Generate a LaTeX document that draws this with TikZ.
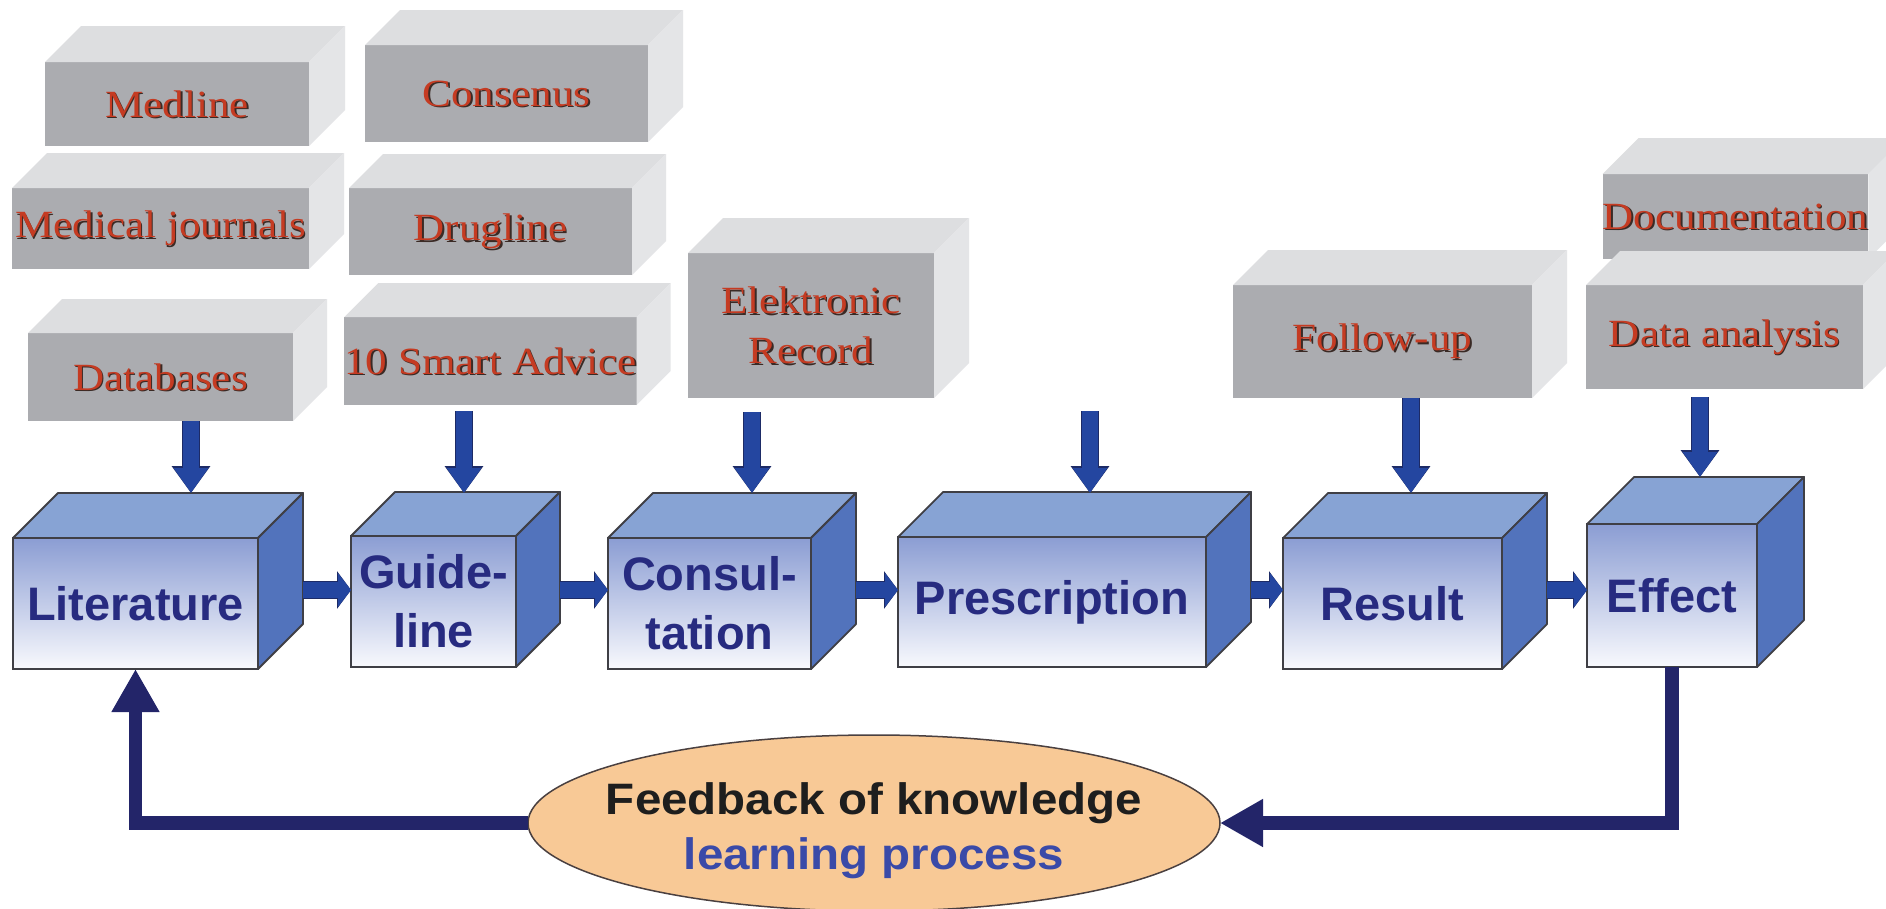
\documentclass[tikz,border=0pt]{standalone}
\usepackage{fontspec}
\usetikzlibrary{arrows.meta,shapes.geometric}
\newfontfamily\graytxt[FakeStretch=1.12]{Liberation Serif}
\newfontfamily\bluetxt{Liberation Sans}
\newfontfamily\elltxt[FakeStretch=1.08]{Liberation Sans}
\definecolor{gfront}{HTML}{ABACB0}
\definecolor{gtop}{HTML}{DDDEE0}
\definecolor{gside}{HTML}{E4E5E7}
\definecolor{gred}{HTML}{C53B22}
\definecolor{gshadow}{HTML}{3A2A25}
\definecolor{btop}{HTML}{87A3D4}
\definecolor{bside}{HTML}{5273BC}
\definecolor{bft}{HTML}{8B9DD3}
\definecolor{bfm}{HTML}{C9D2EC}
\definecolor{bfb}{HTML}{F8F9FD}
\definecolor{bedge}{HTML}{3F3F45}
\definecolor{btext}{HTML}{272B80}
\definecolor{ablue}{HTML}{2446A0}
\definecolor{aedge}{HTML}{1D2B66}
\definecolor{fbnavy}{HTML}{232569}
\definecolor{ellfill}{HTML}{F8C996}
\definecolor{elledge}{HTML}{4A4040}
\definecolor{elltxta}{HTML}{1E1E1E}
\definecolor{elltxtb}{HTML}{3A4AA8}
\newcommand\shd[1]{\makebox[0pt][l]{\hspace*{1.6pt}\raisebox{-1.6pt}[0pt][0pt]{\textcolor{gshadow}{#1}}}#1}
% gray 3D box: name, cx, cy, w, h, depth, text
\newcommand\gbox[7]{%
  \node[gfrontbox, minimum width=#4pt, minimum height=#5pt] (#1) at (#2,#3) {#7};
  \fill[gtop] (#1.north west) -- ++(#6,-#6) -- ([xshift=#6pt,yshift=#6pt]#1.north east) -- (#1.north east) -- cycle;
  \fill[gside] (#1.north east) -- ([xshift=#6pt,yshift=#6pt]#1.north east) -- ([xshift=#6pt,yshift=#6pt]#1.south east) -- (#1.south east) -- cycle;
}
% blue 3D box: name, cx, cy, w, h, depth, text
\newcommand\bbox[7]{%
  \node[bfrontbox, minimum width=#4pt, minimum height=#5pt] (#1) at (#2,#3) {#7};
  \filldraw[fill=btop, draw=bedge, line width=1.8pt, line join=round] (#1.north west) -- ++(#6,-#6) -- ([xshift=#6pt,yshift=#6pt]#1.north east) -- (#1.north east) -- cycle;
  \filldraw[fill=bside, draw=bedge, line width=1.8pt, line join=round] (#1.north east) -- ([xshift=#6pt,yshift=#6pt]#1.north east) -- ([xshift=#6pt,yshift=#6pt]#1.south east) -- (#1.south east) -- cycle;
}
\tikzset{
  gfrontbox/.style={rectangle, fill=gfront, inner sep=0pt, outer sep=0pt, align=center,
    text=gred, font=\graytxt\fontsize{38.5}{50}\selectfont},
  bfrontbox/.style={rectangle, draw=bedge, line width=1.8pt, inner sep=0pt, outer sep=0pt,
    top color=bft, middle color=bfm, bottom color=bfb, align=center,
    text=btext, font=\bluetxt\bfseries\fontsize{47}{59}\selectfont},
  varrow/.style={draw=ablue, line width=16pt, -{Triangle[length=25pt,width=33pt]},
    preaction={draw=aedge, line width=18.5pt, -{Triangle[length=27pt,width=37pt]}}},
  harrow/.style={draw=ablue, line width=16pt, -{Triangle[length=13pt,width=33pt]},
    preaction={draw=aedge, line width=18.5pt, -{Triangle[length=14pt,width=37pt]}}},
  fbarrow/.style={draw=fbnavy, line width=13.5pt, line join=miter, -{Triangle[length=43pt,width=45pt]}},
  fbnode/.style={ellipse, draw=elledge, line width=1.5pt, fill=ellfill, inner sep=0pt, outer sep=0pt,
    minimum width=692pt, minimum height=176pt,
    font=\elltxt\bfseries\fontsize{44}{57}\selectfont}
}
\begin{document}
\begin{tikzpicture}[x=1pt,y=-1pt]
\useasboundingbox (0,0) rectangle (1886,908);
\fill[white] (0,0) rectangle (1886,908);

% blue process boxes
\bbox{lit}{135.5}{603.5}{245}{131}{45}{Literature}
\bbox{gui}{433.5}{601.5}{165}{131}{44}{Guide-\\line}
\bbox{cons}{709.5}{603.5}{203}{131}{45}{Consul-\\tation}
\bbox{pre}{1052}{602}{308}{130}{45}{Prescription}
\bbox{res}{1392.5}{603.5}{219}{131}{45}{Result}
\bbox{eff}{1672}{595.5}{170}{143}{47}{Effect}

% arrow targets on top faces
\coordinate (lit-in) at (191,493);
\coordinate (gui-in) at (464,493);
\coordinate (con-in) at (752,493);
\coordinate (pre-in) at (1090,493);
\coordinate (res-in) at (1411,493);
\coordinate (eff-in) at (1700,477);
\coordinate (pre-src) at (1090,411);

% gray source boxes
\gbox{med}{177}{104}{264}{84}{36}{\shd{Medline}}
\gbox{cns}{506.5}{93.5}{283}{97}{35}{\shd{Consenus}}
\gbox{mj}{160.5}{228.5}{297}{81}{35}{\shd{Medical journals}}
\gbox{drug}{490.5}{231.5}{283}{87}{34}{\shd{Drugline}}
\gbox{db}{160.5}{377}{265}{88}{34}{\shd{Databases}}
\gbox{adv}{490.5}{361}{283}{88}{34}{\shd{10 Smart Advice}}
\gbox{rec}{811}{325.5}{246}{145}{35}{\shd{Elektronic}\\\shd{Record}}
\gbox{fol}{1382.5}{341.5}{299}{113}{35}{\shd{Follow-up}}
\gbox{doc}{1735.5}{216.5}{265}{85}{36}{\shd{Documentation}}
\gbox{dat}{1724.5}{337}{277}{104}{34}{\shd{Data analysis}}

% vertical arrows
\draw[varrow] (db.south -| lit-in) -- (lit-in);
\draw[varrow, shorten <=6pt] (adv.south -| gui-in) -- (gui-in);
\draw[varrow, shorten <=14pt] (rec.south -| con-in) -- (con-in);
\draw[varrow] (pre-src) -- (pre-in);
\draw[varrow] (fol.south -| res-in) -- (res-in);
\draw[varrow, shorten <=8pt] (dat.south -| eff-in) -- (eff-in);

% horizontal arrows
\draw[harrow] ([xshift=45pt,yshift=13.5pt]lit.east) -- ([yshift=11.5pt]gui.west);
\draw[harrow] ([xshift=44pt,yshift=11.5pt]gui.east) -- ([yshift=13.5pt]cons.west);
\draw[harrow] ([xshift=45pt,yshift=13.5pt]cons.east) -- ([yshift=12pt]pre.west);
\draw[harrow] ([xshift=45pt,yshift=12pt]pre.east) -- ([yshift=13.5pt]res.west);
\draw[harrow] ([xshift=45pt,yshift=13.5pt]res.east) -- ([yshift=5.5pt]eff.west);

% feedback
\node[fbnode] (ell) at (874,823) {\makebox[0pt]{\smash{\raisebox{-14pt}{\begin{tabular}{@{}c@{}}\textcolor{elltxta}{Feedback of knowledge}\\[-2pt]\textcolor{elltxtb}{learning process}\end{tabular}}}}};
\draw[fbarrow] (ell.west) -| (lit.south);
\draw[fbarrow] (eff.south) |- (ell.east);
\end{tikzpicture}
\end{document}
